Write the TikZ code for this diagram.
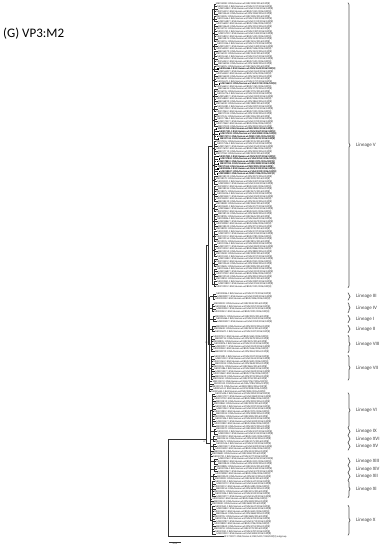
\documentclass[tikz,border=0pt]{standalone}
\usepackage{fontspec}
\setmainfont{Carlito}
\usetikzlibrary{decorations.pathreplacing}

\tikzset{
  branch/.style={line width=0.35pt, color=black!80},
  leaf/.style={anchor=west, inner sep=0.2pt, font=\fontsize{2.5}{2.5}\selectfont, color=black!90},
  boot/.style={anchor=south east, inner sep=0.2pt, font=\fontsize{2.2}{2.2}\selectfont, color=black!80},
  lineage/.style={anchor=west, inner sep=0pt, font=\fontsize{5}{6}\selectfont, color=black!75},
  clade brace/.style={decorate, decoration={brace, amplitude=2pt}, line width=0.7pt, color=black!65},
}

% strains of this study are set in bold
\newcommand\markbold[1]{\expandafter\gdef\csname boldrow#1\endcsname{}}
\foreach \i in {26,32,50,51,52,53,54,61,62,63,64,65,66,67,68} {\markbold{\i}}

\newcommand\strainname[2]{MK\number\numexpr 215300+#1*41\relax.1 RVA/Human-wt/\ifcase#2 IND\or CHN\or USA\or BGD\or JPN\fi/\number\numexpr 1200+#1*17\relax/2016/G3P[8]}

% one leaf: #1 row, #2 x of its node
\newcommand\leafrow[2]{%
  \pgfmathsetmacro\leafy{4+2.5*#1}%
  \pgfmathsetmacro\leafx{#2+1.5+mod(#1*7,5)*0.7}%
  \pgfmathtruncatemacro\leafc{mod(#1,5)}%
  \draw[branch] (#2,\leafy) -- (\leafx,\leafy);
  \ifcsname boldrow#1\endcsname
    \fill (\leafx+0.5,\leafy-0.6) rectangle +(1.2,1.2);
    \node[leaf,font=\fontsize{2.5}{2.5}\selectfont\bfseries,color=black] (s#1) at (\leafx+2,\leafy) {\strainname{#1}{\leafc}};
  \else
    \node[leaf] (s#1) at (\leafx,\leafy) {\strainname{#1}{\leafc}};
  \fi
}

\begin{document}
\begin{tikzpicture}[x=1pt,y=-1pt]
\useasboundingbox (0,0) rectangle (384,550);

\node[anchor=west,inner sep=0pt,font=\fontsize{13}{15}\selectfont] (title) at (3,34) {(G) VP3:M2};

% lineage V
\foreach \a/\b in {0/4,5/7,8/15,16/18,19/24,25/27,28/33,34/40,41/43,44/49,50/54,55/60,61/68,69/72,73/79,80/83,84/90,91/95,96/101,102/105,106/110,111/113} {
  \pgfmathsetmacro\ya{4+2.5*\a}
  \pgfmathsetmacro\yb{4+2.5*\b}
  \draw[branch] (214,\ya) -- (214,\yb);
  \draw[branch] (212,{(\ya+\yb)/2}) -- (214,{(\ya+\yb)/2});
  \foreach \i in {\a,...,\b} {\leafrow{\i}{214}}
}
\draw[branch] (212,9) -- (212,284);

% the other lineages
\foreach \a/\b/\x/\n in {116/118/213/1, 120/123/212/1, 125/127/213/1, 129/131/212/1, 133/139/211/1, 141/150/211/1,
    156/169/212/2, 170/172/214/2, 173/175/213/2, 176/178/213/2, 182/184/214/2, 185/187/214/2, 188/190/213/2, 191/197/212/2, 201/212/212/2} {
  \pgfmathsetmacro\ya{4+2.5*\a}
  \pgfmathsetmacro\yb{4+2.5*\b}
  \pgfmathsetmacro\bx{\n==1 ? 209.5 : 210}
  \draw[branch] (\x,\ya) -- (\x,\yb);
  \draw[branch] (\bx,{(\ya+\yb)/2}) -- (\x,{(\ya+\yb)/2});
  \foreach \i in {\a,...,\b} {\leafrow{\i}{\x}}
}
\foreach \i in {151,...,155} {\leafrow{\i}{209.5}}
\foreach \i in {179,180,181,198,199,200} {\leafrow{\i}{210}}

% backbone
\draw[branch] (209.5,296.5) -- (209.5,391.5);
\draw[branch] (208,146.5) -- (208,344);
\draw[branch] (208,146.5) -- (212,146.5);
\draw[branch] (208,344) -- (209.5,344);
\draw[branch] (210,410.25) -- (210,520.25);
\draw[branch] (206,245) -- (206,443);
\draw[branch] (206,245) -- (208,245);
\draw[branch] (206,443) -- (210,443);
\draw[branch] (168,439) -- (168,536.5);
\draw[branch] (168,439) -- (206,439);
\draw[branch] (168,536.5) -- (224,536.5) node[leaf] (outgroup) {KF\,371207.1 RVA/Simian-tc/ZAF/SA11/1958/G3P[2] outgroup};
\node[boot] (b97) at (206,443) {97};
\node[boot] (b99) at (208,344) {99};

% scale bar
\draw[branch] (169,542) -- (181,542) node[midway,below=0.3pt,inner sep=0.3pt,font=\fontsize{2.5}{2.5}\selectfont] (scale) {0.05};

% lineage braces
\foreach \a/\b/\name in {0/113/V, 116/118/III, 120/123/IV, 125/127/I, 129/131/II, 133/139/VIII, 141/150/VII,
    156/169/VI, 170/172/IX, 173/175/XVI, 176/178/XV, 182/184/XIII, 185/187/XIV, 188/190/XII, 191/197/XI, 201/212/X} {
  \pgfmathsetmacro\ya{4+2.5*\a-1.3}
  \pgfmathsetmacro\yb{4+2.5*\b+1.3}
  \draw[clade brace] (348,\ya) -- (348,\yb);
  \node[lineage] (lin\name) at (356,{(\ya+\yb)/2}) {Lineage \name};
}
\end{tikzpicture}
\end{document}
